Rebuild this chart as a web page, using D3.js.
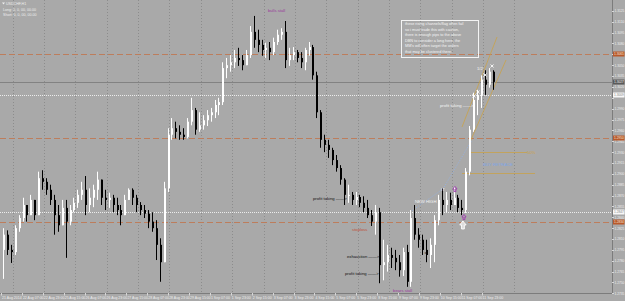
<!DOCTYPE html>
<html><head><meta charset="utf-8">
<script src="https://cdn.jsdelivr.net/npm/d3@7"></script>
<style>
html,body{margin:0;padding:0;background:#a9a9a9;overflow:hidden}
svg{display:block;font-family:"Liberation Sans",Arial,sans-serif}
</style></head><body><svg></svg>
<script>
// Canvas
const width = 625, height = 301;
const plotRight = 612, plotBottom = 293;

// 3-hour bars, open = previous close
const barHours = 3;
const firstOpen = 1.2795;
const closes = [1.2816,1.2795,1.2792,1.2825,1.2839,1.2857,1.2843,1.2864,1.2843,1.2894,
1.2889,1.2878,1.2864,1.2843,1.2829,1.2853,1.2834,1.2850,1.2860,1.2871,
1.2878,1.2857,1.2867,1.2878,1.2892,1.2867,1.2864,1.2867,1.2857,1.2850,
1.2843,1.2864,1.2878,1.2867,1.2857,1.2850,1.2845,1.2834,1.2825,1.2802,
1.2778,1.2880,1.2954,1.2963,1.2958,1.2954,1.2951,1.2972,1.2988,1.2961,
1.2967,1.2974,1.2981,1.2985,1.2995,1.2999,1.3046,1.3050,1.3054,1.3060,
1.3057,1.3050,1.3064,1.3096,1.3085,1.3078,1.3071,1.3074,1.3068,1.3082,
1.3092,1.3096,1.3057,1.3064,1.3068,1.3060,1.3054,1.3071,1.3075,1.3036,
1.2985,1.2947,1.2940,1.2933,1.2919,1.2908,1.2892,1.2871,1.2871,1.2864,
1.2868,1.2860,1.2853,1.2843,1.2834,1.2847,1.2774,1.2778,1.2788,1.2784,
1.2778,1.2767,1.2792,1.2751,1.2839,1.2816,1.2809,1.2795,1.2788,1.2802,
1.2836,1.2864,1.2857,1.2864,1.2857,1.2867,1.2853,1.2850,1.2903,1.2961,
1.3002,1.3009,1.3030,1.3023,1.3041,1.3027];
const highs = [1.2825,1.2822,1.2802,1.2829,1.2843,1.2867,1.2857,1.2871,1.2864,1.2903,
1.2905,1.2894,1.2885,1.2871,1.2857,1.2864,1.2864,1.2857,1.2867,1.2878,
1.2889,1.2897,1.2880,1.2885,1.2903,1.2889,1.2878,1.2874,1.2871,1.2867,
1.2857,1.2871,1.2880,1.2880,1.2871,1.2861,1.2857,1.2850,1.2847,1.2836,
1.2811,1.2889,1.2963,1.2977,1.2972,1.2967,1.2963,1.2977,1.3005,1.2991,
1.2985,1.2981,1.2988,1.2991,1.3002,1.3005,1.3054,1.3060,1.3064,1.3071,
1.3074,1.3064,1.3071,1.3104,1.3118,1.3099,1.3085,1.3081,1.3082,1.3088,
1.3099,1.3101,1.3111,1.3074,1.3075,1.3071,1.3068,1.3074,1.3082,1.3078,
1.3041,1.2988,1.2954,1.2947,1.2936,1.2926,1.2912,1.2894,1.2885,1.2875,
1.2875,1.2871,1.2869,1.2864,1.2850,1.2857,1.2853,1.2809,1.2802,1.2798,
1.2795,1.2788,1.2798,1.2802,1.2850,1.2857,1.2825,1.2816,1.2809,1.2811,
1.2843,1.2871,1.2880,1.2875,1.2874,1.2882,1.2871,1.2864,1.2908,1.2966,
1.3012,1.3016,1.3036,1.3043,1.3046,1.3043];
const lows = [1.2755,1.2788,1.2777,1.2788,1.2820,1.2834,1.2834,1.2843,1.2836,1.2843,
1.2878,1.2871,1.2857,1.2816,1.2820,1.2829,1.2784,1.2829,1.2847,1.2853,
1.2864,1.2843,1.2847,1.2854,1.2864,1.2857,1.2850,1.2853,1.2847,1.2843,
1.2829,1.2843,1.2864,1.2857,1.2847,1.2843,1.2839,1.2825,1.2820,1.2781,
1.2751,1.2778,1.2875,1.2947,1.2949,1.2947,1.2947,1.2949,1.2967,1.2954,
1.2958,1.2961,1.2966,1.2972,1.2977,1.2981,1.2995,1.3032,1.3041,1.3046,
1.3049,1.3043,1.3052,1.3060,1.3074,1.3068,1.3063,1.3060,1.3057,1.3064,
1.3078,1.3085,1.3046,1.3049,1.3057,1.3054,1.3046,1.3043,1.3063,1.3030,
1.2977,1.2936,1.2930,1.2922,1.2912,1.2903,1.2885,1.2857,1.2860,1.2857,
1.2857,1.2854,1.2847,1.2839,1.2828,1.2816,1.2749,1.2753,1.2765,1.2770,
1.2767,1.2758,1.2759,1.2744,1.2744,1.2809,1.2798,1.2788,1.2778,1.2770,
1.2778,1.2829,1.2843,1.2847,1.2850,1.2857,1.2847,1.2843,1.2846,1.2898,
1.2958,1.2981,1.2991,1.3009,1.3019,1.3016];

// Axis values
const priceTicks = [1.3125,1.3110,1.3095,1.3080,1.3065,1.3050,1.3035,1.3020,1.3005,1.2990,
1.2975,1.2960,1.2945,1.2930,1.2915,1.2900,1.2885,1.2870,1.2855,1.2840,
1.2825,1.2810,1.2795,1.2780,1.2765,1.2750,1.2735];
const timeLabels = ["21 Aug 2014","22 Aug 07:00","22 Aug 23:00","25 Aug 15:00","26 Aug 07:00","26 Aug 23:00",
"27 Aug 15:00","28 Aug 07:00","28 Aug 23:00","29 Aug 15:00","1 Sep 07:00","1 Sep 23:00",
"2 Sep 15:00","3 Sep 07:00","3 Sep 23:00","4 Sep 15:00","5 Sep 07:00","5 Sep 23:00",
"8 Sep 15:00","9 Sep 07:00","9 Sep 23:00","10 Sep 15:00","11 Sep 07:00","11 Sep 23:00"];
const labelStepHours = 16;
const dayStarts = [9,33,57,81,105,129,153,177,201,225,249,273,297,321,345,369,393];

// Horizontal levels
const orangeLevels = [1.3065, 1.2950, 1.2834];
const whiteLevels = [1.3009, 1.2847];
const bidPrice = closes[closes.length - 1];

// Drawn objects: [hour, price]
const channelA = [[353, 1.29647], [379.8, 1.30889]];
const channelB = [[359.1, 1.29440], [386.7, 1.30572]];
const fibLines = [[359.1, 402.8, 1.2930], [353, 408.9, 1.2901]];
const newHighLine = [[313.2, 1.28473], [338.4, 1.28791], [360.6, 1.29467]];
const crosses = [[362.2, 1.30075], [365.3, 1.30130], [370.6, 1.30365], [376, 1.30489]];

const notes = [
  {h: 204.4, p: 1.31234, t: "bulls stall", c: "#9b3a9e"},
  {h: 336.1, p: 1.29916, t: "profit taking ——>", c: "#f4f4f4"},
  {h: 317.0, p: 1.28598, t: "NEW HIGH", c: "#f4f4f4"},
  {h: 336.9, p: 1.28770, t: "IT", c: "#f4f4f4"},
  {h: 364.5, p: 1.30427, t: "1/2", c: "#f4f4f4"},
  {h: 369.1, p: 1.29108, t: "BUY RETRACE", c: "#7ea6e6"},
  {h: 402.8, p: 1.29274, t: "50%", c: "#c9a24a"},
  {h: 238.9, p: 1.28639, t: "profit taking ——>", c: "#111"},
  {h: 268.8, p: 1.28211, t: "stoploss", c: "#c0503a"},
  {h: 264.9, p: 1.27838, t: "exhaustion ——>", c: "#111"},
  {h: 263.4, p: 1.27604, t: "profit taking ——>", c: "#111"},
  {h: 300.2, p: 1.27369, t: "bears stall", c: "#9b3a9e"},
  {h: 324.3, p: 1.27894, t: "x", c: "#111"}
];
const boxCorner = [306.3, 1.31124];
const boxEnd = [365.2, 1.30613];
const boxLines = ["these rising channels/flag often fail","so i must trade this with caution,",
"there is enough pips to the above","DBN to consider a long here, the",
"MM's will often target the orders","that may be clustered there."];
const purpleMarks = [[347.6, 1.28791], [354.5, 1.28404]];
const whiteArrow = [353.7, 1.28294];

// Scales
const x = d3.scaleLinear().domain([0, 468]).range([1, 1 + 468 * 1.306]);
const y = d3.scaleLinear().domain([1.27355, 1.31400]).range([plotBottom, 0]);

const svg = d3.select("svg").attr("width", width).attr("height", height);
svg.append("rect").attr("width", width).attr("height", height).attr("fill", "#a9a9a9");

// Day separators
svg.append("g").selectAll("line").data(dayStarts).join("line")
  .attr("x1", d => Math.round(x(d)) + 0.5).attr("x2", d => Math.round(x(d)) + 0.5)
  .attr("y1", 0).attr("y2", plotBottom)
  .attr("stroke", "#8c8c8c").attr("stroke-dasharray", "1,2");

// Horizontal levels
svg.append("g").selectAll("line").data(orangeLevels).join("line")
  .attr("x1", 0).attr("x2", plotRight)
  .attr("y1", d => Math.round(y(d)) + 0.5).attr("y2", d => Math.round(y(d)) + 0.5)
  .attr("stroke", "#bd7d5c").attr("stroke-dasharray", "6,3");
svg.append("g").selectAll("line").data(whiteLevels).join("line")
  .attr("x1", 0).attr("x2", plotRight)
  .attr("y1", d => Math.round(y(d)) + 0.5).attr("y2", d => Math.round(y(d)) + 0.5)
  .attr("stroke", "#ececec").attr("stroke-dasharray", "1,1");
svg.append("line").attr("x1", 0).attr("x2", plotRight)
  .attr("y1", Math.round(y(bidPrice)) + 0.5).attr("y2", Math.round(y(bidPrice)) + 0.5)
  .attr("stroke", "#828282");

// Objects
const line = d3.line().x(d => x(d[0])).y(d => y(d[1]));
[channelA, channelB].forEach(c => svg.append("path").attr("d", line(c))
  .attr("fill", "none").attr("stroke", "#c9a24a").attr("stroke-width", 0.8));
fibLines.forEach(f => svg.append("line")
  .attr("x1", x(f[0])).attr("x2", x(f[1]))
  .attr("y1", Math.round(y(f[2])) + 0.5).attr("y2", Math.round(y(f[2])) + 0.5)
  .attr("stroke", "#c9a24a").attr("stroke-width", 0.8));
svg.append("path").attr("d", line(newHighLine)).attr("fill", "none")
  .attr("stroke", "#8fb2ee").attr("stroke-width", 0.8).attr("stroke-dasharray", "1,1.5");

// Candles
const bars = closes.map((c, i) => {
  const o = i === 0 ? firstOpen : closes[i - 1];
  return {i, o, c, h: Math.max(highs[i], o, c), l: Math.min(lows[i], o, c)};
});
const g = svg.append("g");
bars.forEach(b => {
  const cx = Math.round(x(b.i * barHours + barHours / 2));
  const col = b.c >= b.o ? "#ffffff" : "#000000";
  g.append("line").attr("x1", cx + 0.5).attr("x2", cx + 0.5)
    .attr("y1", y(b.h)).attr("y2", y(b.l)).attr("stroke", col);
  const top = y(Math.max(b.o, b.c)), bot = y(Math.min(b.o, b.c));
  g.append("rect").attr("x", cx).attr("width", 2)
    .attr("y", top).attr("height", Math.max(1, bot - top)).attr("fill", col);
});

// Crosses and arrows
crosses.forEach(d => {
  const cx = x(d[0]), cy = y(d[1]);
  svg.append("path").attr("d", `M${cx-1.5},${cy-1.5}L${cx+1.5},${cy+1.5}M${cx-1.5},${cy+1.5}L${cx+1.5},${cy-1.5}`)
    .attr("stroke", "#fff").attr("stroke-width", 0.9);
});
function arrowPath(cx, cy, s) {
  return `M${cx},${cy - s}L${cx + 0.8 * s},${cy}L${cx + 0.35 * s},${cy}L${cx + 0.35 * s},${cy + s}` +
    `L${cx - 0.35 * s},${cy + s}L${cx - 0.35 * s},${cy}L${cx - 0.8 * s},${cy}Z`;
}
purpleMarks.forEach(d => svg.append("path").attr("d", arrowPath(x(d[0]), y(d[1]), 2.6))
  .attr("fill", "none").attr("stroke", "#a03ab0").attr("stroke-width", 0.9));
svg.append("path").attr("d", arrowPath(x(whiteArrow[0]), y(whiteArrow[1]), 4))
  .attr("fill", "#dcdcdc").attr("stroke", "#fff").attr("stroke-width", 0.9);

// Notes
svg.append("g").selectAll("text").data(notes).join("text")
  .attr("x", d => x(d.h)).attr("y", d => y(d.p))
  .attr("fill", d => d.c).attr("font-size", 4.2).text(d => d.t);

// Text box
const bx = x(boxCorner[0]), by = y(boxCorner[1]);
svg.append("rect").attr("x", Math.round(bx) + 0.5).attr("y", Math.round(by) + 0.5)
  .attr("width", Math.round(x(boxEnd[0]) - bx)).attr("height", Math.round(y(boxEnd[1]) - by))
  .attr("fill", "none").attr("stroke", "#f4f4f4").attr("stroke-width", 1);
svg.append("g").selectAll("text").data(boxLines).join("text")
  .attr("x", bx + 4).attr("y", (d, i) => by + 5.4 + i * 5.5)
  .attr("fill", "#f4f4f4").attr("font-size", 3.8).text(d => d);

// Legend top-left
svg.append("path").attr("d", "M2,2.5L5,2.5L3.5,4.5Z").attr("fill", "#eee");
svg.append("text").attr("x", 6).attr("y", 5).attr("font-size", 3.6).attr("fill", "#eee").text("USDCHF,H1");
svg.append("text").attr("x", 3).attr("y", 10.5).attr("font-size", 3.6).attr("fill", "#eee").text("Long: 0, 0, 00, 00.00");
svg.append("text").attr("x", 3).attr("y", 15.5).attr("font-size", 3.6).attr("fill", "#eee").text("Short: 0, 0, 00, 00.00");

// Frame
svg.append("line").attr("x1", plotRight + 0.5).attr("x2", plotRight + 0.5).attr("y1", 0).attr("y2", plotBottom + 0.5)
  .attr("stroke", "#7c7c7c");
svg.append("line").attr("x1", 0).attr("x2", plotRight + 0.5).attr("y1", plotBottom + 0.5).attr("y2", plotBottom + 0.5)
  .attr("stroke", "#7c7c7c");

// Price axis (labels hidden where a level tag covers them)
const tagValues = orangeLevels.concat(whiteLevels, [bidPrice]);
const shownTicks = priceTicks.filter(t => d3.min(tagValues, v => Math.abs(y(v) - y(t))) > 3.4);
const pa = svg.append("g");
pa.selectAll("line").data(priceTicks).join("line")
  .attr("x1", plotRight).attr("x2", plotRight + 2)
  .attr("y1", d => Math.round(y(d)) + 0.5).attr("y2", d => Math.round(y(d)) + 0.5).attr("stroke", "#d8d8d8");
pa.selectAll("text").data(shownTicks).join("text")
  .attr("x", plotRight + 2.5).attr("y", d => y(d) + 1.4)
  .attr("font-size", 3.8).attr("textLength", 9.8).attr("lengthAdjust", "spacingAndGlyphs")
  .attr("fill", "#eeeeee").text(d => d.toFixed(4));

function priceTag(v, bg, fg) {
  const ty = Math.round(y(v));
  svg.append("rect").attr("x", plotRight + 1).attr("y", ty - 2.5).attr("width", 11.5).attr("height", 5).attr("fill", bg);
  svg.append("text").attr("x", plotRight + 2).attr("y", ty + 1.4).attr("font-size", 3.8)
    .attr("textLength", 9.8).attr("lengthAdjust", "spacingAndGlyphs").attr("fill", fg).text(v.toFixed(4));
}
orangeLevels.forEach(v => priceTag(v, "#b9592b", "#f3e4da"));
whiteLevels.forEach(v => priceTag(v, "#f7f7f7", "#888"));
priceTag(bidPrice, "#5a5a5a", "#eee");

// Time axis
const labelHours = timeLabels.map((t, i) => i * labelStepHours);
svg.append("g").selectAll("line").data(labelHours).join("line")
  .attr("x1", d => Math.round(x(d)) + 0.5).attr("x2", d => Math.round(x(d)) + 0.5)
  .attr("y1", plotBottom).attr("y2", plotBottom + 2.5).attr("stroke", "#d8d8d8");
svg.append("g").selectAll("text").data(timeLabels).join("text")
  .attr("x", (d, i) => x(labelHours[i]) + 1).attr("y", 299)
  .attr("font-size", 3.5).attr("fill", "#eeeeee").text(d => d);
</script></body></html>
